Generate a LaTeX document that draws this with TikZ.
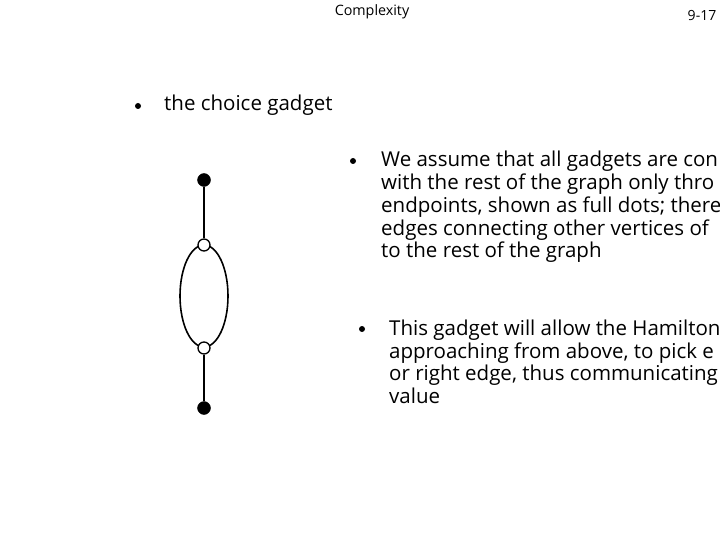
\documentclass[tikz,border=0pt]{standalone}
\usepackage{fontspec}
\setmainfont{Open Sans}
\begin{document}
\begin{tikzpicture}[x=1pt,y=-1pt,
  full/.style={circle,fill=black,draw=black,inner sep=0pt,minimum size=13pt},
  open/.style={circle,fill=white,draw=black,line width=1.3pt,inner sep=0pt,minimum size=12pt},
  edge/.style={line width=1.6pt},
  body/.style={anchor=north west,align=left,inner sep=0pt,font=\fontsize{20.5}{22.8}\selectfont},
  bul/.style={circle,fill=black,inner sep=0pt,minimum size=6pt}]
\useasboundingbox (0,0) rectangle (720,540);
\node[font=\fontsize{14.3}{16}\selectfont] (title) at (372,12) {Complexity};
\node[font=\fontsize{14}{16}\selectfont] (num) at (702,16) {9-17};
\node[bul] (b1) at (138,106) {};
\node[anchor=base west,inner sep=0pt,font=\fontsize{20.5}{24}\selectfont] (t1) at (164,111) {the choice gadget};
% gadget
\draw[edge] (204,296) ellipse (24 and 51);
\node[full] (a) at (204,180) {};
\node[open] (b) at (204,245) {};
\node[open] (c) at (204,348) {};
\node[full] (d) at (204,408) {};
\draw[edge] (a) -- (b);
\draw[edge] (c) -- (d);
% text
\node[bul] (b2) at (353,161) {};
\node[body] (t2) at (381,151) {We assume that all gadgets are con\\
 with the rest of the graph only thro\\
 endpoints, shown as full dots; there\\
 edges connecting other vertices of\\
 to the rest of the graph};
\node[bul] (b3) at (362,329) {};
\node[body] (t3) at (389,319.5) {This gadget will allow the Hamilton\\
 approaching from above, to pick e\\
 or right edge, thus communicating\\
 value};
\end{tikzpicture}
\end{document}
